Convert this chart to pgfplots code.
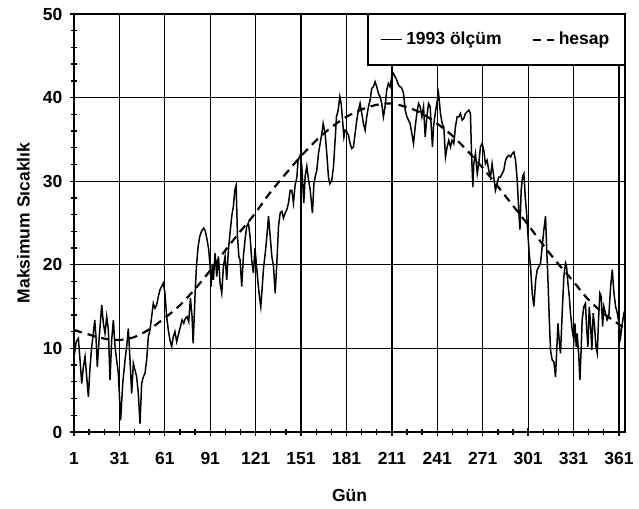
\documentclass[border=0pt]{standalone}
\usepackage{fontspec}
\setmainfont{Liberation Sans}
\usepackage{pgfplots}
\pgfplotsset{compat=1.18}
\pgfplotstableread{
day val
1.0 9.0
2.5 10.8
3.9 11.2
5.0 8.6
6.1 5.8
7.2 7.8
8.3 9.0
9.4 6.6
10.5 4.2
11.6 7.8
12.7 10.2
13.8 11.8
14.7 13.4
15.5 11.4
16.4 7.8
17.7 11.4
19.3 15.2
20.4 13.0
21.5 11.8
22.6 13.8
23.7 12.2
24.8 6.2
25.9 11.0
27.0 13.4
28.1 10.2
29.2 8.6
30.3 7.0
31.8 1.4
33.2 5.8
34.7 8.6
35.8 10.2
36.9 12.4
38.0 8.6
39.1 4.6
40.2 8.2
41.3 7.4
42.4 6.6
43.5 4.6
44.6 1.0
45.7 5.8
46.8 6.6
47.9 7.0
49.0 8.6
50.1 11.4
51.2 12.2
52.3 13.8
53.4 15.4
54.5 14.8
55.6 15.2
56.7 16.2
57.8 17.0
58.9 17.4
60.0 17.8
61.1 16.6
62.2 13.8
63.3 12.2
64.4 11.0
65.5 10.2
66.6 11.4
67.7 12.0
68.8 10.8
70.2 11.8
71.3 12.6
72.4 13.4
73.5 13.0
74.6 13.6
75.7 13.8
76.8 13.2
77.9 16.0
79.0 13.8
79.7 10.6
80.6 14.6
81.2 17.4
81.9 19.8
83.0 22.2
84.1 23.4
85.2 24.0
86.7 24.4
87.8 24.0
88.9 23.0
90.0 21.8
90.9 19.8
91.6 17.4
92.4 20.1
93.1 18.2
94.2 21.4
95.3 18.6
96.4 21.0
97.5 17.8
98.6 16.6
99.7 19.8
100.8 21.0
101.9 18.2
103.0 21.8
104.1 23.8
105.2 25.8
106.3 27.0
107.2 28.9
108.1 29.5
109.0 23.4
109.9 21.0
110.7 20.6
111.8 17.4
112.9 21.0
114.0 23.0
115.1 24.6
116.2 25.0
117.3 23.4
118.4 20.6
119.5 19.0
120.6 22.0
121.7 19.6
122.8 17.4
123.5 16.2
124.4 15.0
125.3 17.2
126.2 19.6
127.3 21.3
128.4 23.4
129.5 25.8
130.6 23.4
131.7 21.0
132.8 19.8
133.9 16.6
135.0 20.2
136.1 24.6
137.2 26.2
138.3 26.4
139.4 25.6
140.5 26.2
141.6 26.6
142.7 27.4
143.8 28.9
144.9 28.9
146.0 27.4
147.1 29.6
148.2 30.4
149.0 32.5
150.4 33.1
151.5 31.8
152.8 27.4
153.7 30.6
154.8 31.8
155.9 30.2
157.0 29.0
158.5 26.2
159.5 29.7
160.3 30.5
161.4 31.3
162.5 33.3
163.6 34.5
164.7 35.7
165.6 36.9
166.9 35.7
168.0 33.3
169.1 30.5
170.0 29.7
171.3 30.1
172.4 31.7
173.5 34.9
174.4 37.7
175.5 38.5
176.6 40.1
177.5 39.3
178.4 37.3
179.3 35.3
180.1 36.1
181.2 35.9
182.3 35.5
183.4 34.5
184.5 33.9
185.6 34.1
186.7 35.7
187.8 37.3
188.9 38.5
190.0 39.3
191.1 38.1
192.2 36.9
193.3 36.1
194.4 37.7
195.5 38.9
196.6 39.7
197.7 41.1
198.8 41.3
199.9 41.9
201.0 41.3
202.1 40.5
203.2 40.1
204.3 39.3
205.4 37.7
206.5 38.9
207.6 40.9
208.7 41.7
209.8 41.3
210.9 42.5
212.0 42.9
213.1 42.5
214.2 42.1
215.3 41.5
216.5 41.3
217.6 41.1
218.7 40.5
219.8 38.5
220.9 37.7
222.0 37.3
223.0 36.9
224.2 35.7
225.3 34.5
226.4 36.5
227.5 38.1
228.6 39.3
229.7 38.9
230.8 37.7
231.9 38.9
233.0 35.3
234.1 37.7
235.2 39.3
236.3 38.9
237.0 36.5
237.8 34.1
238.5 36.5
239.6 38.1
240.7 39.3
241.8 40.5
243.1 38.1
244.2 36.9
245.3 36.5
246.4 32.9
247.5 34.1
248.6 34.9
249.7 34.1
250.8 34.9
251.9 34.5
253.0 36.5
254.1 37.7
255.2 37.7
256.3 38.1
257.4 37.3
258.5 37.5
259.6 38.1
260.7 38.3
261.8 38.5
262.9 38.1
263.6 33.3
264.5 29.3
265.1 32.1
266.2 33.3
267.4 30.9
268.4 32.1
269.5 34.1
270.6 34.5
271.7 33.7
272.8 32.1
273.9 32.5
275.0 31.3
276.1 30.5
277.2 32.1
278.3 30.5
279.4 28.9
280.5 29.7
281.6 30.5
282.7 30.5
283.8 30.9
284.9 31.3
286.1 32.5
287.2 32.9
288.3 33.1
289.4 32.9
290.5 33.3
291.6 33.5
292.7 32.5
293.8 30.1
294.9 26.2
295.6 24.2
296.4 28.9
297.3 30.5
298.2 30.9
299.1 28.1
300.0 26.2
300.8 23.8
301.7 21.4
302.6 19.8
303.7 16.6
304.8 15.0
306.0 18.2
307.0 19.4
308.1 19.8
309.2 20.2
310.3 22.2
311.4 24.2
312.5 25.8
313.2 22.2
314.1 18.2
315.0 13.4
315.8 9.8
316.9 8.6
318.0 8.4
319.1 6.6
319.8 9.4
320.7 13.0
321.5 11.0
322.4 9.4
323.5 14.2
324.6 18.6
325.7 20.2
326.4 19.8
327.3 17.8
328.2 16.2
329.0 14.2
330.1 12.2
331.2 11.0
331.9 13.0
332.8 10.2
333.4 11.8
334.5 9.0
335.2 6.2
336.1 10.2
336.7 13.4
337.8 15.0
338.9 15.4
339.6 12.6
340.5 10.2
341.4 15.0
342.3 12.6
343.1 9.8
344.0 14.2
344.9 12.6
345.8 10.2
346.7 9.4
347.5 13.4
348.4 16.6
349.3 16.2
350.2 12.6
351.0 15.0
352.1 14.2
353.2 13.4
354.3 13.8
355.5 17.4
356.6 19.4
357.7 16.6
358.8 15.0
359.9 14.2
361.0 13.0
362.1 11.4
363.2 13.0
364.3 14.2
365.0 14.6
}\olcum
\pgfplotstableread{
day val
1 12.2
10 11.7
20 11.2
30 11.0
40 11.3
50 12.2
60 13.5
70 15.0
80 16.9
90 19.1
100 21.5
110 23.8
120 26.0
130 28.5
140 30.7
150 32.8
160 34.7
170 36.3
180 37.6
190 38.5
200 39.1
210 39.3
220 38.9
230 38.2
240 37.0
250 35.6
260 33.8
270 31.8
280 29.6
290 27.3
300 25.0
310 22.6
320 20.3
330 18.2
340 16.0
350 14.3
360 13.0
365 12.4
}\hesap
\begin{document}
\begin{tikzpicture}
\begin{axis}[
  scale only axis,
  width=330.6pt, height=250.8pt,
  xmin=1, xmax=365, ymin=0, ymax=50,
  xtick={1,31,...,361},
  minor xtick={11,21,41,51,71,81,101,111,131,141,161,171,191,201,221,231,251,261,281,291,311,321,341,351},
  ytick={0,10,...,50},
  minor y tick num=4,
  xtick pos=bottom, ytick pos=left,
  tick align=center,
  major tick length=5pt, minor tick length=3.5pt,
  every tick/.style={black, line width=0.8pt},
  axis line style={line width=0.9pt},
  grid=major,
  major grid style={black, line width=0.75pt},
  font=\fontsize{10.5}{12}\selectfont\bfseries,
  tick label style={font=\fontsize{10.5}{12}\selectfont\bfseries},
  /pgf/number format/assume math mode=true,
  xticklabel style={yshift=-6pt},
  yticklabel style={xshift=-1pt},
  xlabel={Gün},
  ylabel={Maksimum Sıcaklık},
  xlabel style={yshift=-8pt},
  ylabel style={yshift=1pt},
  legend columns=2,
  legend style={at={(1,1)}, anchor=north east, draw=black, line width=0.8pt,
    inner xsep=7pt, inner ysep=8.5pt, font=\fontsize{10.5}{12}\selectfont\bfseries,
    /tikz/every even column/.append style={column sep=16pt}},
  legend image code/.code={\draw[#1] (0pt,0pt) -- (13pt,0pt);},
]
\addplot[black, line width=0.9pt] table[x=day,y=val] {\olcum};
\addlegendentry{1993 ölçüm}
\addplot[black, line width=1.3pt, dash pattern=on 5pt off 3.5pt, smooth] table[x=day,y=val] {\hesap};
\addlegendentry{hesap}
\end{axis}
\pgfresetboundingbox
\path[use as bounding box] ([shift={(-44.4pt,-46.2pt)}]current axis.south west) rectangle ([shift={(8.4pt,8.4pt)}]current axis.north east);
\end{tikzpicture}
\end{document}
